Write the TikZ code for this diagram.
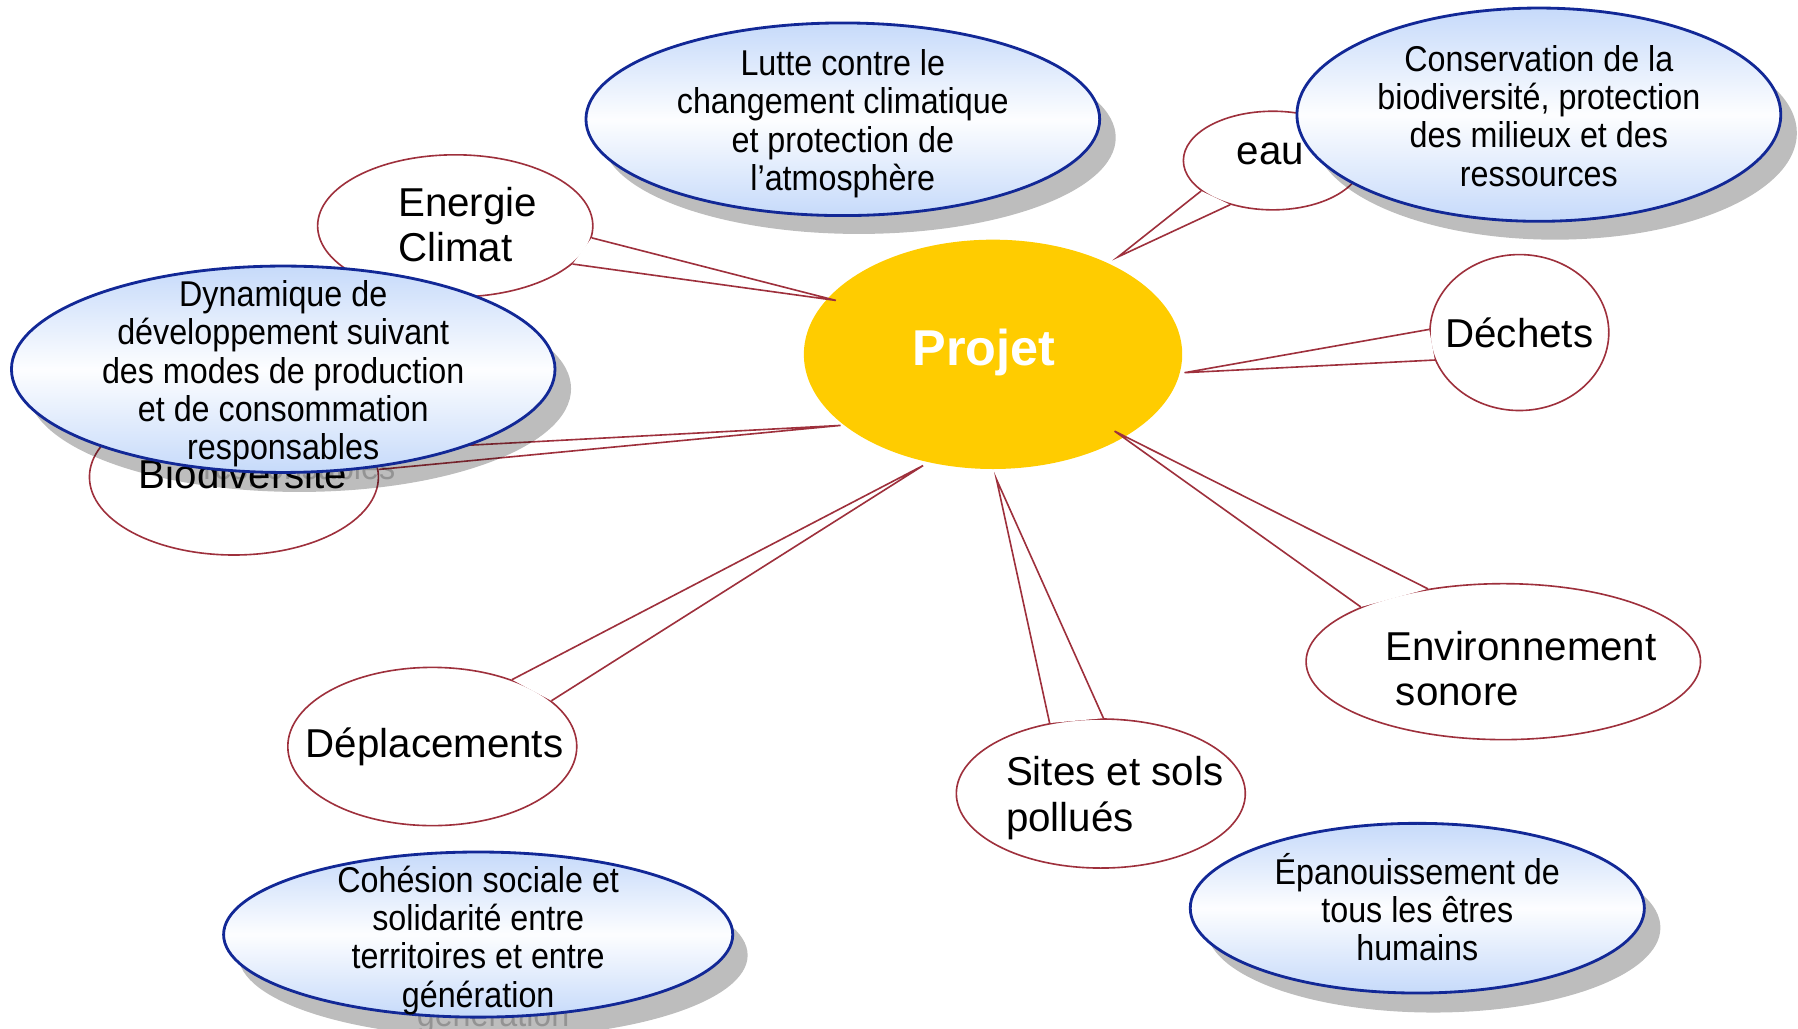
\documentclass[tikz,border=0pt]{standalone}
\usepackage{fontspec}
\setmainfont{Liberation Sans}
\newfontfamily\etroite[FakeStretch=0.9]{Liberation Sans}
\usepackage{tikz}
\usepackage{xcolor}
\usetikzlibrary{shapes.geometric}

\definecolor{jaune}{HTML}{FFCC00}
\definecolor{rouge}{RGB}{158,48,60}
\definecolor{bleufonce}{RGB}{18,40,150}
\definecolor{bleuclair}{HTML}{C6DAFA}

\begin{document}
\begin{tikzpicture}[
    x=0.02cm, y=-0.02cm,
    dims/.style 2 args={minimum width=#1*0.02cm, minimum height=#2*0.02cm},
    projet/.style={ellipse, fill=jaune, inner sep=0pt, text=white, font=\bfseries\fontsize{25}{28}\selectfont},
    bulle/.style={ellipse, draw=rouge, fill=white, line width=0.8pt, inner sep=0pt},
    queue/.style={draw=rouge, fill=white, line width=0.8pt},
    objectif/.style={ellipse, draw=bleufonce, line width=1.4pt, top color=bleuclair, bottom color=bleuclair, middle color=white!96!bleuclair, inner sep=0pt},
    ombre/.style={ellipse, fill=black, fill opacity=0.26, inner sep=0pt},
    txtrouge/.style={align=left, inner sep=0pt, font=\fontsize{20}{22.4}\selectfont},
    txtbleu/.style={align=center, inner sep=0pt, font=\etroite\fontsize{17.8}{19}\selectfont},
    txtombre/.style={txtbleu, text=black, text opacity=0.22}
]
\useasboundingbox (0,0) rectangle (1568,897);

% Centre
\node[projet, dims={330}{200}] (projet) at (866,309) {};
\node[projet, fill=none] (projet-t) at (858,307) {Projet};

% Bulles
\node[bulle, dims={240}{124}] (energie) at (397,197) {};
\node[bulle, dims={156}{86}] (eau) at (1110,140) {};
\node[bulle, dims={156}{136}] (dechets) at (1325,290) {};
\node[bulle, dims={252}{136}] (biodiv) at (204,416) {};
\node[bulle, dims={252}{138}] (deplac) at (377,651) {};
\node[bulle, dims={252}{130}] (sites) at (960,692) {};
\node[bulle, dims={344}{136}] (environ) at (1311,577) {};

% Pointes sur le projet
\coordinate (tip-energie) at (729,262);
\coordinate (tip-eau) at (975,224);
\coordinate (tip-dechets) at (1033,325);
\coordinate (tip-biodiv) at (733,371);
\coordinate (tip-deplac) at (805,406);
\coordinate (tip-sites) at (869,418);
\coordinate (tip-environ) at (972,376);

% Queues
\filldraw[queue] (energie.-5.3) -- (tip-energie) -- (energie.-18);
\filldraw[queue] (eau.203) -- (tip-eau) -- (eau.226.5);
\filldraw[queue] (dechets.178.5) -- (tip-dechets) -- (dechets.198);
\filldraw[queue] (biodiv.11.5) -- (tip-biodiv) -- (biodiv.3.2);
\filldraw[queue] (deplac.40.4) -- (tip-deplac) -- (deplac.21.2);
\filldraw[queue] (sites.126.9) -- (tip-sites) -- (sites.88.2);
\filldraw[queue] (environ.159) -- (tip-environ) -- (environ.136.3);

% Textes des bulles
\node[txtrouge, anchor=west] (energie-t) at (347,196) {Energie\\Climat};
\node[txtrouge] (eau-t) at (1108,134) {eau};
\node[txtrouge] (dechets-t) at (1325,290) {Déchets};
\node[txtrouge] (biodiv-t) at (212,413) {Biodiversité};
\node[txtrouge] (deplac-t) at (379,651) {Déplacements};
\node[txtrouge, anchor=west] (sites-t) at (877,696) {Sites et sols\\pollués};
\node[txtrouge, anchor=west] (environ-t) at (1208,583) {Environnement\\\hspace*{0.18cm}sonore};

% Ombres
\node[ombre, dims={448}{168}] (lutte-o) at (749,120) {};
\node[ombre, dims={422}{186}] (conserv-o) at (1356,116) {};
\node[ombre, dims={474}{180}] (dynamique-o) at (261,339) {};
\node[ombre, dims={444}{144}] (cohesion-o) at (430,833) {};
\node[ombre, dims={396}{148}] (epanouis-o) at (1250,809) {};
\node[txtombre] (dynamique-ot) at (261,343) {Dynamique de\\développement suivant\\des modes de production\\et de consommation\\responsables};
\node[txtombre] (cohesion-ot) at (430,837) {Cohésion sociale et\\solidarité entre\\territoires et entre\\génération};

% Finalites
\node[objectif, dims={448}{168}] (lutte) at (735,104) {};
\node[objectif, dims={422}{186}] (conserv) at (1342,100) {};
\node[objectif, dims={474}{180}] (dynamique) at (247,322) {};
\node[objectif, dims={444}{144}] (cohesion) at (417,815) {};
\node[objectif, dims={396}{148}] (epanouis) at (1236,792) {};

\node[txtbleu] (lutte-t) at (735,108) {Lutte contre le\\changement climatique\\et protection de\\l’atmosphère};
\node[txtbleu] (conserv-t) at (1342,101) {Conservation de la\\biodiversité, protection\\des milieux et des\\ressources};
\node[txtbleu] (dynamique-t) at (247,326) {Dynamique de\\développement suivant\\des modes de production\\et de consommation\\responsables};
\node[txtbleu] (cohesion-t) at (417,820) {Cohésion sociale et\\solidarité entre\\territoires et entre\\génération};
\node[txtbleu] (epanouis-t) at (1236,791) {Épanouissement de\\tous les êtres\\humains};

\end{tikzpicture}
\end{document}
